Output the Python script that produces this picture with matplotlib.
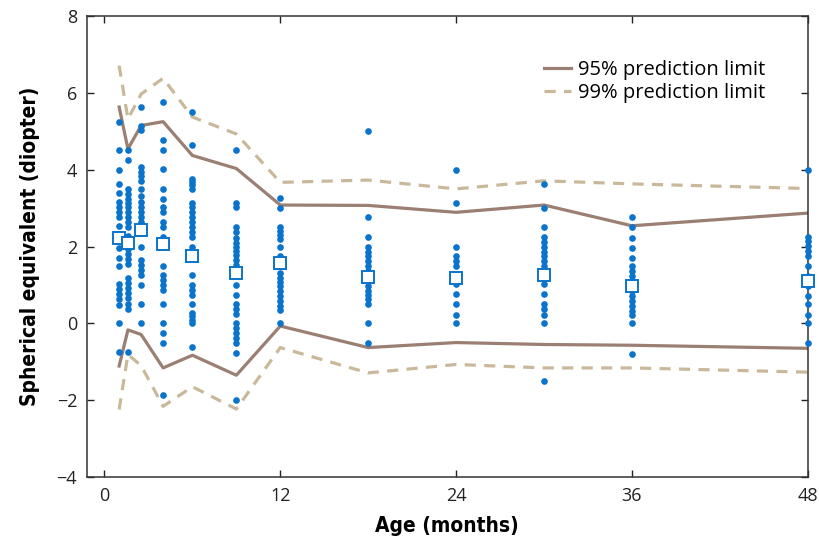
import matplotlib
matplotlib.use("Agg")
import matplotlib.pyplot as plt

# ages (months) of the visits
ages = [1, 1.6, 2.5, 4, 6, 9, 12, 18, 24, 30, 36, 48]

# individual spherical equivalents per visit (diopter)
se_1 = [5.25, 4.5, 4.0, 3.63, 3.4, 3.15, 3.02, 2.9, 2.76, 2.54, 2.33, 1.97,
        1.71, 1.5, 1.02, 0.89, 0.76, 0.63, 0.47, 0.0, -0.74]
se_1_6 = [4.5, 4.25, 3.5, 3.37, 3.25, 3.13, 3.02, 2.9, 2.76, 2.63, 2.5, 2.28,
          1.93, 1.8, 1.67, 1.54, 1.17, 1.06, 0.93, 0.8, 0.67, 0.5, 0.37, -0.74]
se_2_5 = [5.64, 5.15, 5.03, 4.06, 3.95, 3.83, 3.71, 3.5, 3.32, 3.15, 3.02, 2.89,
          2.76, 2.63, 2.5, 2.0, 1.65, 1.51, 1.39, 1.25, 0.99, 0.5, 0.0]
se_4 = [5.77, 4.76, 4.51, 4.02, 3.51, 3.25, 3.02, 2.89, 2.64, 2.51, 2.25, 2.0,
        1.5, 1.25, 1.12, 0.99, 0.87, 0.5, 0.0, -0.24, -0.5, -1.87]
se_6 = [5.51, 4.63, 3.77, 3.69, 3.6, 3.5, 3.13, 3.02, 2.89, 2.76, 2.63, 2.5,
        2.38, 2.26, 2.0, 1.25, 0.99, 0.87, 0.73, 0.5, 0.28, 0.19, 0.1, 0.0, -0.62]
se_9 = [4.51, 3.12, 3.02, 2.5, 2.37, 2.23, 2.1, 2.0, 1.89, 1.77, 1.64, 1.51,
        0.99, 0.73, 0.5, 0.37, 0.25, 0.0, -0.11, -0.24, -0.37, -0.5, -0.77, -2.0]
se_12 = [3.26, 2.99, 2.51, 2.41, 2.3, 2.19, 1.99, 1.76, 1.54, 1.32, 1.19, 1.07,
         0.96, 0.84, 0.71, 0.58, 0.45, 0.34, 0.0]
se_18 = [5.02, 2.76, 2.26, 1.99, 1.87, 1.76, 1.63, 1.5, 1.37, 1.25, 1.09, 0.97,
         0.84, 0.73, 0.63, 0.5, 0.0, -0.5]
se_24 = [4.0, 3.12, 1.99, 1.76, 1.63, 1.5, 1.25, 1.02, 0.76, 0.5, 0.23, 0.0]
se_30 = [3.63, 2.99, 2.51, 2.25, 2.12, 1.99, 1.87, 1.76, 1.63, 1.5, 1.25, 1.02,
         0.76, 0.51, 0.38, 0.23, 0.0, -1.5]
se_36 = [2.77, 2.51, 2.23, 1.97, 1.71, 1.5, 1.37, 1.23, 1.1, 0.84, 0.71, 0.58,
         0.45, 0.32, 0.23, 0.0, -0.79]
se_48 = [4.0, 2.25, 2.15, 2.02, 1.89, 1.76, 1.5, 1.23, 0.97, 0.71, 0.5, 0.23,
         0.0, -0.5]
se_values = [se_1, se_1_6, se_2_5, se_4, se_6, se_9, se_12,
             se_18, se_24, se_30, se_36, se_48]

# means per visit (open squares)
means = [2.22, 2.1, 2.43, 2.06, 1.76, 1.30, 1.56, 1.21, 1.17, 1.26, 0.97, 1.10]

# prediction limits
upper95 = [5.63, 4.54, 5.15, 5.25, 4.37, 4.03, 3.08, 3.07, 2.89, 3.08, 2.54, 2.87]
lower95 = [-1.11, -0.17, -0.29, -1.16, -0.83, -1.35, -0.07, -0.63, -0.50, -0.55, -0.57, -0.65]
upper99 = [6.71, 5.32, 5.97, 6.38, 5.37, 4.93, 3.67, 3.73, 3.50, 3.71, 3.63, 3.51]
lower99 = [-2.24, -0.81, -1.10, -2.16, -1.65, -2.23, -0.63, -1.29, -1.07, -1.16, -1.16, -1.27]

blue = '#0a74cc'
solid_col = '#9a7f72'
dash_col = '#c9b99a'
txt_font = ['Open Sans', 'DejaVu Sans']

fig = plt.figure(figsize=(8.2, 5.43), dpi=100)
ax = fig.add_axes([0.106, 0.1215, 0.879, 0.849])

for age, vals in zip(ages, se_values):
    ax.plot([age] * len(vals), vals, 'o', color=blue, markersize=4.8,
            markeredgewidth=0, zorder=3, clip_on=False)

ax.plot(ages, upper95, '-', color=solid_col, lw=2.3, label='95% prediction limit', zorder=2)
ax.plot(ages, lower95, '-', color=solid_col, lw=2.3, zorder=2)
ax.plot(ages, upper99, '--', color=dash_col, lw=2.3, dashes=(3.5, 2.6),
        label='99% prediction limit', zorder=2)
ax.plot(ages, lower99, '--', color=dash_col, lw=2.3, dashes=(3.5, 2.6), zorder=2)

ax.plot(ages, means, 's', markerfacecolor='white', markeredgecolor=blue,
        markersize=8.5, markeredgewidth=1.4, zorder=4, clip_on=False)

ax.set_xlim(-1.2, 48)
ax.set_ylim(-4, 8)
ax.set_xticks([0, 12, 24, 36, 48])
ax.set_yticks([-4, -2, 0, 2, 4, 6, 8])
ax.tick_params(direction='in', length=5, width=1, top=True, right=True,
               labelsize=13, colors='#222222', pad=7)
for lab in ax.get_xticklabels() + ax.get_yticklabels():
    lab.set_family(txt_font)
for sp in ax.spines.values():
    sp.set_color('#333333')
    sp.set_linewidth(1.1)

ax.set_xlabel('Age (months)', fontsize=15, fontweight='bold',
              fontstretch='condensed', family='DejaVu Sans', labelpad=8)
ax.set_ylabel('Spherical equivalent (diopter)', fontsize=15, fontweight='bold',
              fontstretch='condensed', family='DejaVu Sans', labelpad=12)

leg = ax.legend(loc='upper right', frameon=False,
                bbox_to_anchor=(0.941, 0.905), borderaxespad=0, borderpad=0,
                handlelength=1.35, handletextpad=0.35, labelspacing=0.15,
                prop={'family': txt_font, 'size': 14.5})

fig.savefig('out.png', dpi=100, facecolor='white')
